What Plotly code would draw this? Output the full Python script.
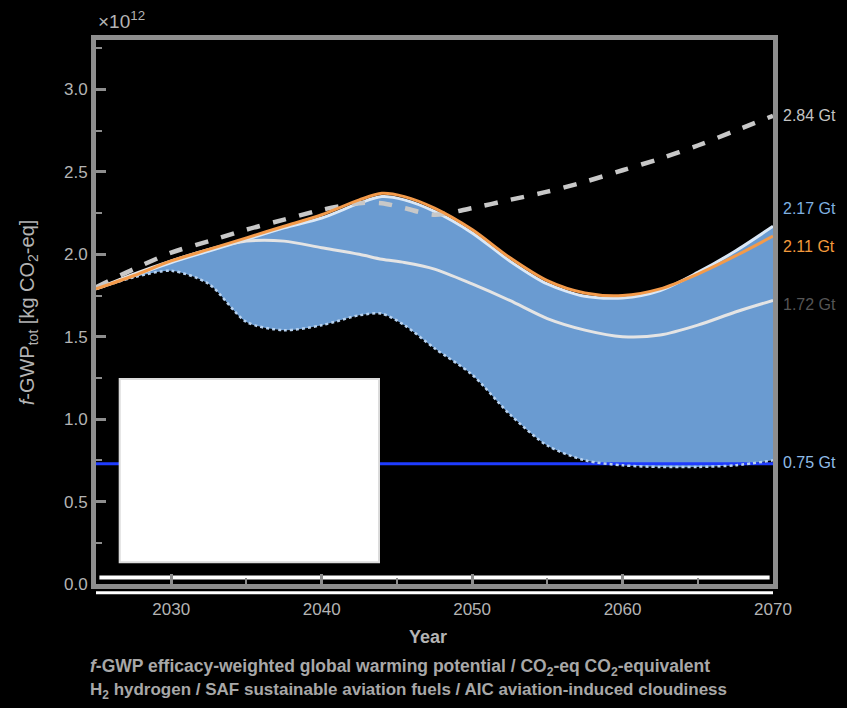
import plotly.graph_objects as go

# ---------------- data (values in 10^12 kg CO2-eq) ----------------
years = [2025, 2027.5, 2030, 2032.5, 2035, 2037.5, 2040, 2042.5, 2044, 2045.5,
         2047.5, 2050, 2052.5, 2055, 2057.5, 2060, 2062.5, 2065, 2067.5, 2070]

baseline = [1.80, 1.91, 2.01, 2.08, 2.15, 2.21, 2.27, 2.31, 2.31, 2.28,
            2.24, 2.28, 2.33, 2.38, 2.44, 2.51, 2.58, 2.66, 2.75, 2.84]

h2_upper = [1.79, 1.87, 1.95, 2.02, 2.09, 2.16, 2.22, 2.31, 2.35, 2.33,
            2.26, 2.13, 1.96, 1.82, 1.745, 1.735, 1.78, 1.89, 2.02, 2.17]

saf = [1.79, 1.87, 1.96, 2.03, 2.10, 2.17, 2.24, 2.33, 2.37, 2.35,
       2.28, 2.15, 1.98, 1.84, 1.765, 1.75, 1.79, 1.88, 1.99, 2.11]

aic = [1.79, 1.88, 1.96, 2.03, 2.08, 2.08, 2.04, 2.00, 1.97, 1.95,
       1.91, 1.82, 1.72, 1.61, 1.54, 1.50, 1.51, 1.57, 1.65, 1.72]

combined = [1.79, 1.86, 1.90, 1.82, 1.59, 1.54, 1.57, 1.63, 1.64, 1.57,
            1.43, 1.27, 1.03, 0.84, 0.75, 0.72, 0.71, 0.71, 0.72, 0.75]

ref_years = [2025, 2070]
ref_level = [0.73, 0.73]

end_labels = ["2.84 Gt", "2.17 Gt", "2.11 Gt", "1.72 Gt", "0.75 Gt"]
end_values = [2.84, 2.17, 2.11, 1.72, 0.75]
end_colors = ["#c4c4c4", "#7fb0e0", "#f39a3c", "#555555", "#8fbce8"]
end_shifts = [0, 18, -10, -4, -2]

y_ticks = [0.0, 0.5, 1.0, 1.5, 2.0, 2.5, 3.0]
x_ticks = [2030, 2040, 2050, 2060, 2070]

AXIS = "#8e8e8e"
TXT = "#b4b4b4"
FONT = "Liberation Sans"

fig = go.Figure()

# band base (invisible)
fig.add_trace(go.Scatter(x=years, y=combined, mode="lines",
                         line=dict(width=0, shape="spline", smoothing=0.8),
                         showlegend=False, hoverinfo="skip"))
# band fill up to H2 upper line
fig.add_trace(go.Scatter(x=years, y=h2_upper, mode="lines", fill="tonexty",
                         fillcolor="#6a9bd1",
                         line=dict(color="#dbe8f6", width=3, shape="spline", smoothing=0.8),
                         showlegend=False))
# reference horizontal line
fig.add_trace(go.Scatter(x=ref_years, y=ref_level, mode="lines",
                         line=dict(color="#1f3cff", width=3), showlegend=False))
# lower dotted
fig.add_trace(go.Scatter(x=years, y=combined, mode="lines",
                         line=dict(color="#b8d2ef", width=2.5, dash="dot",
                                   shape="spline", smoothing=0.8),
                         showlegend=False))
# AIC line
fig.add_trace(go.Scatter(x=years, y=aic, mode="lines",
                         line=dict(color="#e4e4e4", width=3, shape="spline", smoothing=0.8),
                         showlegend=False))
# baseline dashed
fig.add_trace(go.Scatter(x=years, y=baseline, mode="lines",
                         line=dict(color="#c8c8c8", width=4.5, dash="dash",
                                   shape="spline", smoothing=0.8),
                         showlegend=False))
# SAF orange
fig.add_trace(go.Scatter(x=years, y=saf, mode="lines",
                         line=dict(color="#f39a4a", width=3, shape="spline", smoothing=0.8),
                         showlegend=False))

annotations = []
for lab, v, c, s in zip(end_labels, end_values, end_colors, end_shifts):
    annotations.append(dict(x=2070, y=v, xref="x", yref="y", text=lab,
                            showarrow=False, xanchor="left", yanchor="middle",
                            xshift=8, yshift=s,
                            font=dict(family=FONT, size=16, color=c)))

annotations += [
    dict(x=0.0, y=1.0, xref="paper", yref="paper", text="×10<sup>12</sup>",
         showarrow=False, xanchor="left", yanchor="bottom", yshift=6,
         font=dict(family=FONT, size=19, color=TXT)),
    dict(x=-0.1, y=0.5, xref="paper", yref="paper",
         text="<i>f</i>-GWP<sub>tot</sub> [kg CO<sub>2</sub>-eq]",
         showarrow=False, textangle=-90, xanchor="center", yanchor="middle",
         font=dict(family=FONT, size=20, color=TXT)),
    dict(x=0.49, y=-0.098, xref="paper", yref="paper", text="<b>Year</b>",
         showarrow=False, xanchor="center", yanchor="middle",
         font=dict(family=FONT, size=18, color=TXT)),
    dict(x=-0.012, y=-0.153, xref="paper", yref="paper",
         text="<b><i>f</i>-GWP efficacy-weighted global warming potential / CO<sub>2</sub>-eq CO<sub>2</sub>-equivalent</b>",
         showarrow=False, xanchor="left", yanchor="middle",
         font=dict(family=FONT, size=17.5, color="#a8a8a8")),
    dict(x=-0.012, y=-0.196, xref="paper", yref="paper",
         text="<b>H<sub>2</sub> hydrogen / SAF sustainable aviation fuels / AIC aviation-induced cloudiness</b>",
         showarrow=False, xanchor="left", yanchor="middle",
         font=dict(family=FONT, size=17, color="#a8a8a8")),
]

shapes = [
    # empty legend box
    dict(type="rect", xref="paper", yref="paper", x0=0.035, x1=0.418,
         y0=0.04, y1=0.377, fillcolor="white", line=dict(color="#dcdcdc", width=2),
         layer="above"),
    # white strips along bottom axis
    dict(type="line", xref="paper", yref="paper", x0=0.005, x1=0.995,
         y0=0.012, y1=0.012, line=dict(color="white", width=4), layer="below"),
    dict(type="line", xref="paper", yref="paper", x0=0.0, x1=1.0,
         y0=-0.016, y1=-0.016, line=dict(color="white", width=3), layer="above"),
]

fig.update_layout(
    width=847, height=708,
    paper_bgcolor="black", plot_bgcolor="black",
    margin=dict(l=96, r=74, t=40, b=124),
    showlegend=False,
    annotations=annotations,
    shapes=shapes,
    font=dict(family=FONT, color=TXT),
)

fig.update_xaxes(range=[2025, 2070], tickvals=x_ticks,
                 ticktext=[str(t) for t in x_ticks],
                 showgrid=False, zeroline=False,
                 showline=True, linecolor=AXIS, linewidth=5, mirror=True,
                 ticks="inside", ticklen=10, tickwidth=3, tickcolor=AXIS,
                 ticklabelstandoff=6,
                 minor=dict(dtick=5, tick0=2025, ticks="inside", ticklen=6,
                            tickwidth=2, tickcolor=AXIS),
                 tickfont=dict(family=FONT, size=17, color=TXT))

fig.update_yaxes(range=[0, 3.3], tickvals=y_ticks,
                 ticktext=[f"{t:.1f}" for t in y_ticks],
                 showgrid=False, zeroline=False,
                 showline=True, linecolor=AXIS, linewidth=5, mirror=True,
                 ticks="inside", ticklen=10, tickwidth=3, tickcolor=AXIS,
                 minor=dict(dtick=0.25, tick0=0, ticks="inside", ticklen=6,
                            tickwidth=2, tickcolor=AXIS),
                 tickfont=dict(family=FONT, size=17, color=TXT))

fig.write_html(
    "out.html",
    config={"displayModeBar": False},
    post_script="document.body.style.margin='0';document.body.style.background='black';document.body.style.overflow='hidden';",
)
